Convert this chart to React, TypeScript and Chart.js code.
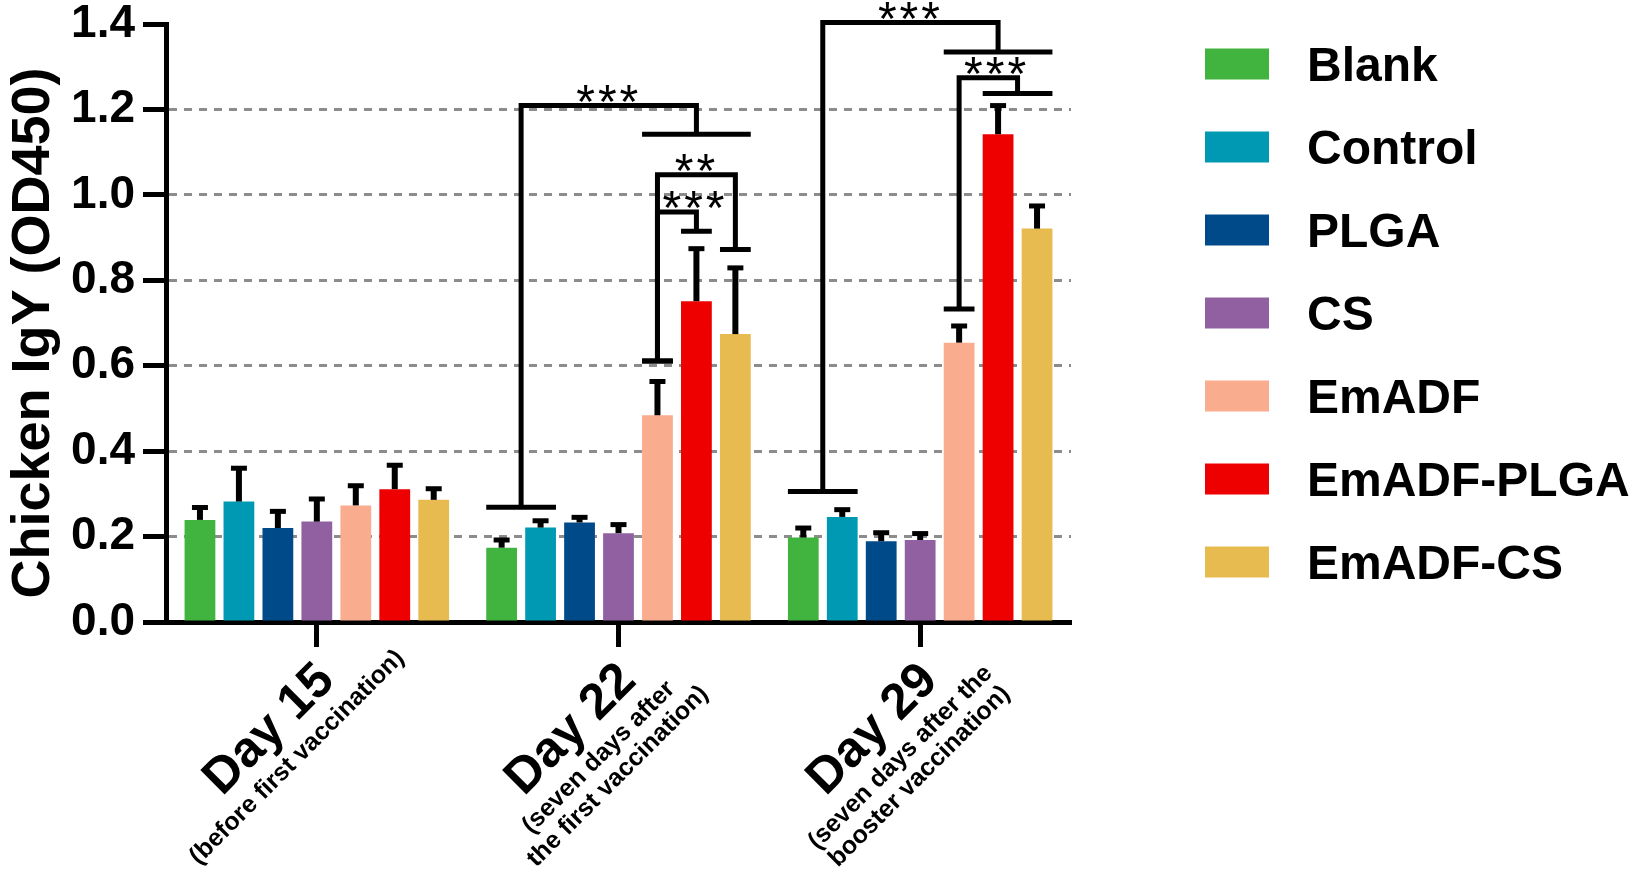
import React, { useEffect, useRef } from 'react';
import { Chart, registerables } from 'chart.js';

Chart.register(...registerables);

const FONT = '"Liberation Sans", Arial, Helvetica, sans-serif';

// categories
const days = ['Day 15', 'Day 22', 'Day 29'];
const dayNotes = [
    ['(before first vaccination)'],
    ['(seven days after', 'the first vaccination)'],
    ['(seven days after the', 'booster vaccination)'],
];

// groups
const groups = ['Blank', 'Control', 'PLGA', 'CS', 'EmADF', 'EmADF-PLGA', 'EmADF-CS'];
const groupColors = ['#41b43f', '#0099b4', '#004a8a', '#9060a0', '#f9ac8e', '#ee0000', '#e8bb50'];

// mean OD450 per group (Day 15, Day 22, Day 29)
const blankMean = [0.239, 0.174, 0.198];
const controlMean = [0.282, 0.221, 0.246];
const plgaMean = [0.220, 0.233, 0.189];
const csMean = [0.235, 0.208, 0.192];
const emadfMean = [0.273, 0.484, 0.654];
const emadfPlgaMean = [0.311, 0.751, 1.142];
const emadfCsMean = [0.286, 0.674, 0.921];

// upper error (SD)
const blankSd = [0.029, 0.018, 0.022];
const controlSd = [0.078, 0.016, 0.017];
const plgaSd = [0.039, 0.012, 0.020];
const csSd = [0.053, 0.020, 0.015];
const emadfSd = [0.046, 0.079, 0.039];
const emadfPlgaSd = [0.056, 0.123, 0.067];
const emadfCsSd = [0.026, 0.155, 0.053];

const means = [blankMean, controlMean, plgaMean, csMean, emadfMean, emadfPlgaMean, emadfCsMean];
const sds = [blankSd, controlSd, plgaSd, csSd, emadfSd, emadfPlgaSd, emadfCsSd];

// y axis
const yMin = 0;
const yMax = 1.4;
const yStep = 0.2;

// significance brackets: day index, bar groups on each side, heights (OD450)
const brackets = [
    { day: 1, left: [0, 1], right: [4, 5, 6], top: 1.209, leftEnd: 0.2685, rightEnd: 1.142, stars: '***' },
    { day: 1, left: [4], right: [6], top: 1.047, leftEnd: 0.611, rightEnd: 0.872, stars: '**' },
    { day: 1, left: [4], right: [5], top: 0.96, leftEnd: 0.611, rightEnd: 0.915, stars: '***' },
    { day: 2, left: [0, 1], right: [4, 5, 6], top: 1.4035, leftEnd: 0.3055, rightEnd: 1.3345, stars: '***' },
    { day: 2, left: [4], right: [5, 6], top: 1.274, leftEnd: 0.7326, rightEnd: 1.237, stars: '***' },
];

const yTitle = 'Chicken IgY (OD450)';

// error bars, brackets, rotated labels, legend and y title
const extrasPlugin = {
    id: 'extras',
    afterDatasetsDraw(chart: any) {
        const { ctx } = chart;
        const yScale = chart.scales.y;
        ctx.save();
        ctx.strokeStyle = '#000';
        chart.data.datasets.forEach((ds: any, i: number) => {
            const meta = chart.getDatasetMeta(i);
            meta.data.forEach((bar: any, j: number) => {
                const top = yScale.getPixelForValue(ds.data[j] + ds.sd[j]);
                ctx.lineWidth = 6;
                ctx.beginPath();
                ctx.moveTo(bar.x, bar.y);
                ctx.lineTo(bar.x, top);
                ctx.stroke();
                ctx.lineWidth = 5;
                ctx.beginPath();
                ctx.moveTo(bar.x - 8, top);
                ctx.lineTo(bar.x + 8, top);
                ctx.stroke();
            });
        });
        ctx.restore();
    },
    afterDraw(chart: any) {
        const { ctx, chartArea } = chart;
        const xScale = chart.scales.x;
        const yScale = chart.scales.y;

        // brackets
        const span = (day: number, idxs: number[]) => {
            let l = Infinity;
            let r = -Infinity;
            idxs.forEach((k) => {
                const bar = chart.getDatasetMeta(k).data[day];
                l = Math.min(l, bar.x - bar.width / 2);
                r = Math.max(r, bar.x + bar.width / 2);
            });
            return [l, r];
        };
        ctx.save();
        ctx.strokeStyle = '#000';
        ctx.fillStyle = '#000';
        ctx.lineWidth = 5;
        ctx.lineJoin = 'miter';
        brackets.forEach((b) => {
            const [l1, r1] = span(b.day, b.left);
            const [l2, r2] = span(b.day, b.right);
            const yTop = yScale.getPixelForValue(b.top);
            const yL = yScale.getPixelForValue(b.leftEnd);
            const yR = yScale.getPixelForValue(b.rightEnd);
            const mL = (l1 + r1) / 2;
            const mR = (l2 + r2) / 2;
            ctx.beginPath();
            ctx.moveTo(l1, yL);
            ctx.lineTo(r1, yL);
            ctx.moveTo(l2, yR);
            ctx.lineTo(r2, yR);
            ctx.stroke();
            ctx.beginPath();
            ctx.moveTo(mL, yL);
            ctx.lineTo(mL, yTop);
            ctx.lineTo(mR, yTop);
            ctx.lineTo(mR, yR);
            ctx.stroke();
            ctx.font = `48px ${FONT}`;
            (ctx as any).letterSpacing = '3px';
            ctx.textAlign = 'center';
            ctx.textBaseline = 'alphabetic';
            const m = ctx.measureText(b.stars);
            // keep stars clear of the left leg of the bracket
            const cx = Math.max((mL + mR) / 2, mL + 5 + m.width / 2);
            ctx.fillText(b.stars, cx, yTop - 4 - m.actualBoundingBoxDescent);
            (ctx as any).letterSpacing = '0px';
        });
        ctx.restore();

        // rotated category labels
        ctx.save();
        ctx.fillStyle = '#000';
        ctx.textAlign = 'center';
        ctx.textBaseline = 'alphabetic';
        days.forEach((d, i) => {
            const x = xScale.getPixelForTick(i);
            const y = xScale.top + 25;
            ctx.save();
            ctx.translate(x, y);
            ctx.rotate(-Math.PI / 4);
            ctx.font = `bold 50px ${FONT}`;
            ctx.fillText(d, -92, 39);
            ctx.font = `bold 25px ${FONT}`;
            dayNotes[i].forEach((line, k) => {
                ctx.fillText(line, -92, 71 + k * 27);
            });
            ctx.restore();
        });
        ctx.restore();

        // y title
        ctx.save();
        ctx.fillStyle = '#000';
        ctx.font = `bold 54px ${FONT}`;
        ctx.textAlign = 'center';
        ctx.textBaseline = 'alphabetic';
        ctx.translate(49, (chartArea.top + chartArea.bottom) / 2 + 10);
        ctx.rotate(-Math.PI / 2);
        ctx.fillText(yTitle, 0, 0);
        ctx.restore();

        // legend
        ctx.save();
        ctx.font = `bold 48px ${FONT}`;
        ctx.textAlign = 'left';
        ctx.textBaseline = 'alphabetic';
        chart.data.datasets.forEach((ds: any, i: number) => {
            const cy = 64 + i * 83;
            ctx.fillStyle = ds.backgroundColor;
            ctx.fillRect(1205, cy - 15.5, 64, 31);
            ctx.fillStyle = '#000';
            ctx.fillText(ds.label, 1307, cy + 17);
        });
        ctx.restore();
    },
};

const App: React.FC = () => {
    const canvasRef = useRef<HTMLCanvasElement | null>(null);

    useEffect(() => {
        if (!canvasRef.current) return;
        const chart = new Chart(canvasRef.current, {
            type: 'bar',
            data: {
                labels: days,
                datasets: groups.map((g, i) => ({
                    label: g,
                    data: means[i],
                    sd: sds[i],
                    backgroundColor: groupColors[i],
                    borderWidth: 0,
                    categoryPercentage: 0.904,
                    barPercentage: 0.79,
                })) as any,
            },
            options: {
                animation: false,
                responsive: false,
                devicePixelRatio: 1,
                layout: { padding: { left: 0, top: 24, right: 567, bottom: 0 } },
                plugins: {
                    legend: { display: false },
                    tooltip: { enabled: false },
                },
                scales: {
                    x: {
                        z: 1,
                        offset: true,
                        grid: {
                            display: true,
                            offset: false,
                            drawOnChartArea: false,
                            drawTicks: true,
                            tickLength: 25,
                            tickWidth: 5,
                            tickColor: '#000',
                        },
                        border: { display: true, color: '#000', width: 5 },
                        ticks: { display: false },
                        afterFit(scale: any) {
                            scale.height = 869 - 622;
                            scale.paddingLeft = 0;
                            scale.paddingRight = 0;
                        },
                    },
                    y: {
                        min: yMin,
                        max: yMax,
                        grid: {
                            color: (c: any) =>
                                c.tick && (c.tick.value < 0.01 || c.tick.value > yMax - 0.01)
                                    ? 'rgba(0,0,0,0)'
                                    : '#8c8c8c',
                            lineWidth: 3,
                            tickLength: 23,
                            tickWidth: 5,
                            tickColor: '#000',
                        },
                        border: { display: true, color: '#000', width: 5, dash: [8, 7] },
                        ticks: {
                            stepSize: yStep,
                            padding: 8,
                            color: '#000',
                            font: { family: FONT, size: 46, weight: 'bold' },
                            callback: (v: any) => Number(v).toFixed(1),
                        },
                        afterFit(scale: any) {
                            scale.width = 166;
                            scale.paddingTop = 0;
                            scale.paddingBottom = 0;
                        },
                    },
                },
            },
            plugins: [extrasPlugin],
        } as any);
        return () => {
            chart.destroy();
        };
    }, []);

    return (
        <div style={{ position: 'fixed', left: 0, top: 0, width: 1638, height: 869, background: '#fff' }}>
            <canvas ref={canvasRef} width={1638} height={869} style={{ display: 'block' }} />
        </div>
    );
};

export default App;
